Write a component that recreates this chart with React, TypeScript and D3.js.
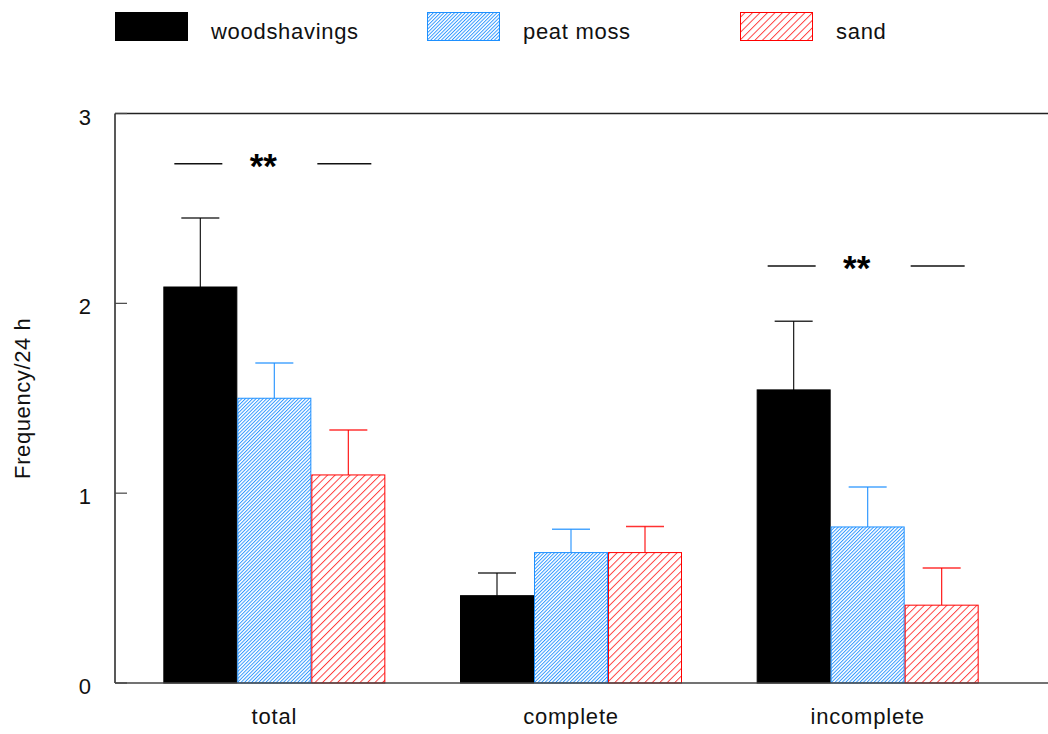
import React from "react";
import * as d3 from "d3";

const categories = ["total", "complete", "incomplete"];
const seriesNames = ["woodshavings", "peat moss", "sand"];
const woodshavings = [2.086, 0.46, 1.544];
const peatMoss = [1.5, 0.687, 0.822];
const sand = [1.096, 0.687, 0.41];
const woodshavingsErr = [2.45, 0.58, 1.906];
const peatMossErr = [1.686, 0.81, 1.033];
const sandErr = [1.333, 0.824, 0.606];
const yTicks = [0, 1, 2, 3];
const sigCategories = ["total", "incomplete"];
const sigLevels = [2.735, 2.197];
const sigLabels = ["**", "**"];

const values = [woodshavings, peatMoss, sand];
const errTops = [woodshavingsErr, peatMossErr, sandErr];
const strokes = ["#000000", "#1e90ff", "#ff0000"];
const fills = ["#000000", "url(#hatchBlue)", "url(#hatchRed)"];

const W = 1048;
const H = 734;
const left = 115;
const top = 113.5;
const bottom = 683;
const font = "'Liberation Sans', Arial, sans-serif";

export default function App() {
  const y = d3.scaleLinear().domain([0, 3]).range([bottom, top]);
  const x = d3.scaleBand().domain(categories).range([126, 1016]).padding(0);
  const groupW = 222;
  const xs = d3.scaleBand().domain(seriesNames).range([0, groupW]).padding(0);
  const bw = xs.bandwidth();
  const gx = (c: string) => (x(c) as number) + x.bandwidth() / 2 - groupW / 2;

  return (
    <svg width={W} height={H} style={{ position: "absolute", left: 0, top: 0, background: "#fff" }} fontFamily={font}>
      <defs>
        <pattern id="hatchBlue" patternUnits="userSpaceOnUse" width={2.5} height={2.5} patternTransform="rotate(45)">
          <rect width={2.5} height={2.5} fill="#fff" />
          <line x1={0.5} y1={0} x2={0.5} y2={2.5} stroke="#1e90ff" strokeWidth={0.9} />
        </pattern>
        <pattern id="hatchRed" patternUnits="userSpaceOnUse" width={5.3} height={5.3} patternTransform="rotate(45)">
          <rect width={5.3} height={5.3} fill="#fff" />
          <line x1={0.5} y1={0} x2={0.5} y2={5.3} stroke="#ff3030" strokeWidth={0.9} />
        </pattern>
      </defs>

      {/* legend */}
      {seriesNames.map((s, i) => {
        const lx = [115, 427, 740][i];
        const tx = [211, 523, 836][i];
        return (
          <g key={s}>
            <rect x={lx + 0.5} y={12.5} width={72} height={28} fill={fills[i]} stroke={strokes[i]} strokeWidth={1} />
            <text x={tx} y={39} fontSize={22} fill="#111" letterSpacing={0.7}>
              {s}
            </text>
          </g>
        );
      })}

      {/* bars */}
      {categories.map((c, ci) => (
        <g key={c}>
          {seriesNames.map((s, si) => {
            const bx = gx(c) + (xs(s) as number);
            const v = values[si][ci];
            const e = errTops[si][ci];
            const cx = bx + bw / 2;
            return (
              <g key={s}>
                <line x1={cx} x2={cx} y1={y(v)} y2={y(e)} stroke={strokes[si]} strokeWidth={1.2} opacity={0.9} />
                <line x1={cx - 19} x2={cx + 19} y1={y(e)} y2={y(e)} stroke={strokes[si]} strokeWidth={1.5} opacity={0.8} />
                <rect
                  x={bx + 0.5}
                  y={y(v)}
                  width={bw - 1}
                  height={y(0) - y(v)}
                  fill={fills[si]}
                  stroke={strokes[si]}
                  strokeWidth={1}
                />
              </g>
            );
          })}
          <text x={x(c)! + x.bandwidth() / 2} y={724} textAnchor="middle" fontSize={22} fill="#111" letterSpacing={0.8}>
            {c}
          </text>
        </g>
      ))}

      {/* significance */}
      {sigCategories.map((c, i) => {
        const cx = (x(c) as number) + x.bandwidth() / 2;
        const ly = y(sigLevels[i]);
        return (
          <g key={c}>
            <line x1={cx - 100} x2={cx - 52} y1={ly} y2={ly} stroke="#111" strokeWidth={1.5} />
            <line x1={cx + 43} x2={cx + 97} y1={ly} y2={ly} stroke="#111" strokeWidth={1.5} />
            <text x={cx - 11} y={ly + 14} textAnchor="middle" fontSize={35} fontWeight="bold" fill="#000">
              {sigLabels[i]}
            </text>
          </g>
        );
      })}

      {/* axes frame */}
      <line x1={left} x2={left} y1={top} y2={bottom} stroke="#222" strokeWidth={1.5} />
      <line x1={left} x2={W} y1={top} y2={top} stroke="#222" strokeWidth={1.5} />
      <line x1={left} x2={W} y1={bottom} y2={bottom} stroke="#444" strokeWidth={1.5} />
      {yTicks.map((t) => (
        <g key={t}>
          <line x1={left} x2={left + 12} y1={y(t)} y2={y(t)} stroke="#444" strokeWidth={1.2} />
          <text x={91} y={y(t) + 11} textAnchor="end" fontSize={22} fill="#111">
            {t}
          </text>
        </g>
      ))}
      <text
        transform={`translate(30,${(top + bottom) / 2}) rotate(-90)`}
        textAnchor="middle"
        fontSize={22}
        fill="#111"
        letterSpacing={0.6}
      >
        Frequency/24 h
      </text>
    </svg>
  );
}
